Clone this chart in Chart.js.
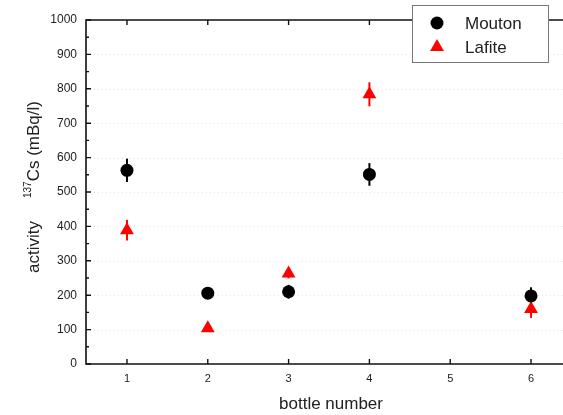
<!DOCTYPE html>
<html>
<head>
<meta charset="utf-8">
<script src="https://cdn.jsdelivr.net/npm/chart.js@4.4.1/dist/chart.umd.min.js"></script>
<style>
  html, body { margin: 0; padding: 0; background: #fff; overflow: hidden; }
  #wrap { width: 580px; height: 415px; }
</style>
</head>
<body>
<div id="wrap"><canvas id="c" width="580" height="415"></canvas></div>
<script>
// Bottle numbers and measured 137Cs activity (mBq/l) with uncertainties
const moutonBottles = [1, 2, 3, 4, 6];
const moutonActivity = [563, 206, 210, 551, 198];
const moutonError = [34, 14, 20, 33, 25];

const lafiteBottles = [1, 2, 3, 4, 6];
const lafiteActivity = [389, 104, 263, 784, 160];
const lafiteError = [30, 10, 14, 35, 26];

const xTickValues = [1, 2, 3, 4, 5, 6];
const yTickValues = [0, 100, 200, 300, 400, 500, 600, 700, 800, 900, 1000];

const seriesNames = ['Mouton', 'Lafite'];
const FONT = '"Liberation Sans", Arial, sans-serif';

const toPoints = (xs, ys) => xs.map((x, i) => ({ x: x, y: ys[i] }));

// Frame, grid, inward ticks, error bars, axis titles and legend
const decorations = {
  id: 'decorations',
  beforeDatasetsDraw(chart) {
    const { ctx, chartArea: a, scales: { x, y } } = chart;
    ctx.save();
    // dotted horizontal grid
    ctx.strokeStyle = 'rgba(0,0,0,0.11)';
    ctx.lineWidth = 1;
    ctx.setLineDash([1, 3]);
    yTickValues.forEach(v => {
      if (v === 0 || v === 1000) return;
      const py = Math.round(y.getPixelForValue(v)) + 0.5;
      ctx.beginPath(); ctx.moveTo(a.left, py); ctx.lineTo(a.right, py); ctx.stroke();
    });
    ctx.setLineDash([]);

    // error bars
    chart.data.datasets.forEach(ds => {
      ctx.strokeStyle = ds.borderColor;
      ctx.lineWidth = 2;
      ds.data.forEach((p, i) => {
        const px = x.getPixelForValue(p.x);
        ctx.beginPath();
        ctx.moveTo(px, y.getPixelForValue(p.y + ds.errors[i]));
        ctx.lineTo(px, y.getPixelForValue(p.y - ds.errors[i]));
        ctx.stroke();
      });
    });

    // axis frame
    ctx.strokeStyle = '#111';
    ctx.lineWidth = 1.6;
    ctx.beginPath();
    ctx.rect(a.left, a.top, a.right - a.left, a.bottom - a.top);
    ctx.stroke();

    // inward ticks
    ctx.lineWidth = 1.4;
    ctx.beginPath();
    yTickValues.forEach(v => {
      const py = y.getPixelForValue(v);
      ctx.moveTo(a.left, py); ctx.lineTo(a.left + 5, py);
      ctx.moveTo(a.right, py); ctx.lineTo(a.right - 5, py);
      if (v < 1000) {
        const pm = y.getPixelForValue(v + 50);
        ctx.moveTo(a.left, pm); ctx.lineTo(a.left + 3, pm);
        ctx.moveTo(a.right, pm); ctx.lineTo(a.right - 3, pm);
      }
    });
    xTickValues.forEach(v => {
      const px = x.getPixelForValue(v);
      ctx.moveTo(px, a.bottom); ctx.lineTo(px, a.bottom - 5);
      ctx.moveTo(px, a.top); ctx.lineTo(px, a.top + 5);
    });
    ctx.stroke();
    ctx.restore();
  },
  afterDraw(chart) {
    const { ctx } = chart;
    ctx.save();
    ctx.fillStyle = '#222';

    // x title
    ctx.font = '17px ' + FONT;
    ctx.textAlign = 'center';
    ctx.textBaseline = 'middle';
    ctx.fillText('bottle number', 331, 404);

    // y title, rotated, with superscript mass number
    ctx.translate(39, 187);
    ctx.rotate(-Math.PI / 2);
    ctx.textBaseline = 'alphabetic';
    ctx.textAlign = 'left';
    const big = '17px ' + FONT, small = '10px ' + FONT;
    const partA = 'activity', gap = 23, sup = '137', partB = 'Cs (mBq/l)';
    ctx.font = big;
    const wA = ctx.measureText(partA).width, wB = ctx.measureText(partB).width;
    ctx.font = small;
    const wS = ctx.measureText(sup).width;
    let cx = -(wA + gap + wS + wB) / 2;
    ctx.font = big; ctx.fillText(partA, cx, 0); cx += wA + gap;
    ctx.font = small; ctx.fillText(sup, cx, -8); cx += wS;
    ctx.font = big; ctx.fillText(partB, cx, 0);
    ctx.setTransform(1, 0, 0, 1, 0, 0);

    // legend box
    const bx = 412.5, by = 5.5, bw = 136, bh = 57;
    ctx.fillStyle = '#fff';
    ctx.fillRect(bx, by, bw, bh);
    ctx.strokeStyle = '#777';
    ctx.lineWidth = 1;
    ctx.strokeRect(bx, by, bw, bh);
    ctx.font = '17px ' + FONT;
    ctx.textAlign = 'left';
    ctx.textBaseline = 'middle';
    chart.data.datasets.forEach((ds, i) => {
      const ly = 23 + i * 24;
      ctx.fillStyle = ds.backgroundColor;
      ctx.strokeStyle = ds.borderColor;
      Chart.helpers.drawPoint(ctx, {
        pointStyle: ds.pointStyle, radius: ds.pointRadius, borderWidth: 0, rotation: 0
      }, 437, ly);
      ctx.fillStyle = '#222';
      ctx.fillText(seriesNames[i], 465, ly + 1);
    });
    ctx.restore();
  }
};

new Chart(document.getElementById('c'), {
  type: 'scatter',
  data: {
    datasets: [
      {
        label: seriesNames[0],
        data: toPoints(moutonBottles, moutonActivity),
        errors: moutonError,
        pointStyle: 'circle',
        pointRadius: 6.5,
        pointHoverRadius: 6.5,
        backgroundColor: '#000',
        borderColor: '#000',
        borderWidth: 0
      },
      {
        label: seriesNames[1],
        data: toPoints(lafiteBottles, lafiteActivity),
        errors: lafiteError,
        pointStyle: 'triangle',
        pointRadius: 8,
        pointHoverRadius: 8,
        backgroundColor: '#ff0000',
        borderColor: '#ff0000',
        borderWidth: 0
      }
    ]
  },
  options: {
    responsive: false,
    animation: false,
    events: [],
    layout: { padding: { top: 20, right: 2.5, left: 0, bottom: 0 } },
    plugins: { legend: { display: false }, tooltip: { enabled: false } },
    scales: {
      x: {
        type: 'linear',
        min: 0.493,
        max: 6.507,
        afterBuildTicks: s => { s.ticks = xTickValues.map(v => ({ value: v })); },
        afterFit: s => { s.height = 51; },
        grid: { display: false, drawTicks: false },
        border: { display: false },
        ticks: { padding: 8, color: '#222', font: { family: FONT, size: 11 }, callback: v => String(v) }
      },
      y: {
        type: 'linear',
        min: 0,
        max: 1000,
        afterBuildTicks: s => { s.ticks = yTickValues.map(v => ({ value: v })); },
        afterFit: s => { s.width = 86; },
        grid: { display: false, drawTicks: false },
        border: { display: false },
        ticks: { padding: 9, color: '#222', font: { family: FONT, size: 12 }, callback: v => String(v) }
      }
    }
  },
  plugins: [decorations]
});
</script>
</body>
</html>
